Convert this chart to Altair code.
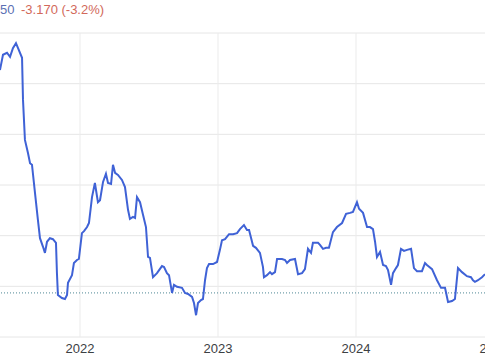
import altair as alt
import pandas as pd

# fractional year of each observation
years = [
    2021.420, 2021.442, 2021.471, 2021.493, 2021.514, 2021.536, 2021.551, 2021.580, 2021.587, 2021.601,
    2021.623, 2021.638, 2021.652, 2021.674, 2021.695, 2021.710, 2021.732, 2021.746, 2021.761, 2021.782,
    2021.804, 2021.826, 2021.833, 2021.840, 2021.869, 2021.891, 2021.906, 2021.913, 2021.942, 2021.956,
    2021.978, 2021.992, 2022.014, 2022.029, 2022.051, 2022.065, 2022.087, 2022.108, 2022.130, 2022.145,
    2022.167, 2022.188, 2022.203, 2022.225, 2022.239, 2022.254, 2022.275, 2022.304, 2022.326, 2022.348,
    2022.362, 2022.384, 2022.399, 2022.413, 2022.435, 2022.457, 2022.478, 2022.493, 2022.507, 2022.529,
    2022.558, 2022.594, 2022.609, 2022.630, 2022.645, 2022.667, 2022.681, 2022.703, 2022.739, 2022.761,
    2022.783, 2022.812, 2022.826, 2022.841, 2022.855, 2022.877, 2022.891, 2022.906, 2022.920, 2022.935,
    2022.964, 2022.993, 2023.014, 2023.029, 2023.051, 2023.080, 2023.109, 2023.138, 2023.159, 2023.188,
    2023.210, 2023.225, 2023.254, 2023.275, 2023.304, 2023.326, 2023.333, 2023.355, 2023.377, 2023.391,
    2023.413, 2023.428, 2023.464, 2023.486, 2023.500, 2023.522, 2023.558, 2023.580, 2023.609, 2023.630,
    2023.652, 2023.674, 2023.688, 2023.725, 2023.739, 2023.761, 2023.783, 2023.804, 2023.833, 2023.862,
    2023.899, 2023.928, 2023.957, 2023.978, 2024.007, 2024.022, 2024.051, 2024.080, 2024.101, 2024.123,
    2024.138, 2024.152, 2024.174, 2024.196, 2024.217, 2024.232, 2024.254, 2024.268, 2024.290, 2024.304,
    2024.326, 2024.348, 2024.370, 2024.399, 2024.420, 2024.442, 2024.478, 2024.500, 2024.514, 2024.551,
    2024.587, 2024.616, 2024.645, 2024.667, 2024.696, 2024.717, 2024.739, 2024.768, 2024.804, 2024.833,
    2024.848, 2024.862, 2024.884, 2024.913, 2024.935,
]

prices = [
    132.7, 135.7, 136.1, 135.3, 137.0, 138.0, 137.0, 135.1, 126.8, 118.9,
    116.3, 114.3, 114.0, 108.4, 103.1, 99.5, 97.8, 96.6, 98.8, 99.5,
    99.3, 98.6, 92.6, 88.3, 87.7, 87.5, 88.3, 90.7, 92.2, 94.6,
    95.2, 95.4, 100.5, 100.9, 101.7, 102.5, 107.6, 110.4, 106.6, 107.0,
    110.6, 112.2, 110.4, 110.2, 114.0, 112.4, 112.0, 111.0, 109.6, 105.1,
    103.3, 103.7, 103.5, 107.6, 106.6, 104.1, 101.7, 95.8, 95.6, 91.8,
    92.6, 94.0, 93.8, 92.6, 92.2, 88.7, 90.3, 89.9, 89.7, 88.7,
    88.5, 87.9, 86.7, 84.3, 86.7, 87.3, 87.5, 91.2, 93.6, 94.4,
    94.4, 94.8, 97.2, 99.1, 99.3, 100.3, 100.3, 100.5, 101.3, 102.1,
    101.1, 101.1, 98.0, 97.6, 96.6, 93.8, 91.8, 92.2, 92.8, 92.4,
    92.8, 95.4, 95.4, 95.2, 94.6, 95.2, 95.4, 92.4, 92.6, 93.4,
    97.4, 96.6, 98.6, 98.6, 98.2, 97.4, 97.6, 97.6, 100.7, 101.7,
    102.5, 104.3, 104.5, 104.7, 106.6, 105.3, 104.5, 101.7, 101.7, 101.3,
    98.8, 95.8, 96.8, 94.2, 94.0, 93.2, 90.3, 92.6, 93.6, 94.2,
    97.4, 97.0, 97.2, 97.4, 93.6, 93.0, 93.0, 94.6, 94.2, 93.4,
    91.2, 89.7, 89.7, 86.9, 87.1, 87.5, 93.6, 92.8, 92.0, 91.8,
    91.2, 90.9, 91.2, 91.8, 92.4,
]

year_ticks = [2022, 2023, 2024, 2025]
year_labels = ["2022", "2023", "2024", "2025"]
price_ticks = [80, 90, 100, 110, 120, 130, 140]
previous_close = [88.7]
header_price = "50"
header_change = "-3.170 (-3.2%)"

df = pd.DataFrame({"year": years, "price": prices})
ref = pd.DataFrame({"price": previous_close})
hgrid_df = pd.DataFrame({"price": price_ticks})
vgrid_df = pd.DataFrame({"year": year_ticks, "label": year_labels})

x_scale = alt.Scale(domain=[2021.4203, 2024.9348], nice=False, zero=False)
y_scale = alt.Scale(domain=[80, 140], nice=False, zero=False)

hgrid = alt.Chart(hgrid_df).mark_rule(color="#e6e6e6", strokeWidth=1).encode(
    y=alt.Y("price:Q", scale=y_scale, axis=None)
)

vgrid = alt.Chart(vgrid_df).mark_rule(color="#ebebeb", strokeWidth=1, clip=True).encode(
    x=alt.X("year:Q", scale=x_scale, axis=None)
)

xlabels = alt.Chart(vgrid_df).mark_text(
    align="center", baseline="middle", font="Liberation Sans", fontSize=13, color="#3c4043"
).encode(
    x=alt.X("year:Q", scale=x_scale, axis=None),
    y=alt.value(316),
    text="label:N",
)

line = alt.Chart(df).mark_line(color="#3f62d6", strokeWidth=2, clip=True).encode(
    x=alt.X("year:Q", scale=x_scale, axis=None),
    y=alt.Y("price:Q", scale=y_scale, axis=None),
)

dotted = alt.Chart(ref).mark_rule(color="#4f8795", strokeWidth=1, strokeDash=[1, 2]).encode(
    y=alt.Y("price:Q", scale=y_scale, axis=None)
)

t1 = alt.Chart(pd.DataFrame({"t": [header_price]})).mark_text(
    align="left", baseline="middle", font="Liberation Sans", fontSize=13, color="#5b70b4"
).encode(text="t:N", x=alt.value(0), y=alt.value(-23))

t2 = alt.Chart(pd.DataFrame({"t": [header_change]})).mark_text(
    align="left", baseline="middle", font="Liberation Sans", fontSize=13, color="#d2695a"
).encode(text="t:N", x=alt.value(21), y=alt.value(-23))

chart = alt.layer(hgrid, vgrid, dotted, line, xlabels, t1, t2).properties(
    width=485, height=304,
    background="white",
    padding={"left": 0, "top": 33, "right": 0, "bottom": 23},
    autosize=alt.AutoSizeParams(type="none"),
).configure_view(stroke="transparent", strokeWidth=0)

chart.save("out.html", embed_options={"renderer": "svg", "actions": False})
